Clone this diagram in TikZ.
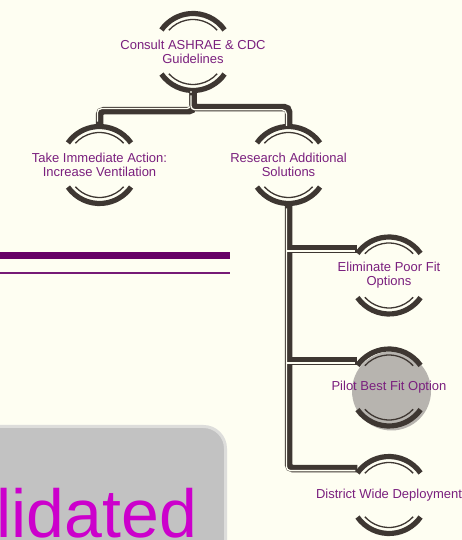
\documentclass[tikz,border=0pt]{standalone}
\usepackage{fontspec}
\setmainfont{Liberation Sans}
\usetikzlibrary{calc,positioning}
\definecolor{cBg}{HTML}{FEFEF2}
\definecolor{cLine}{HTML}{3E3732}
\definecolor{cText}{HTML}{7A1F7E}
\definecolor{cBar}{HTML}{660066}
\definecolor{cBarThin}{HTML}{761A76}
\definecolor{cBox}{HTML}{C2C2C2}
\definecolor{cBoxEdge}{HTML}{DDDDDB}
\definecolor{cMag}{HTML}{CC00CC}
\definecolor{cPilot}{HTML}{B7B4AF}
\tikzset{
  stage/.style={circle,inner sep=0pt,minimum size=82pt},
  lbl/.style={text=cText,align=center,inner sep=0pt,font=\fontsize{13}{14}\selectfont},
  rim/.style={cLine,line width=5.2pt},
  rimin/.style={cLine,line width=1.3pt},
  conn/.style={cLine,line width=7.5pt,rounded corners=4pt,
    postaction={draw=cBg,line width=1.3pt,transform canvas={shift={#1}}}},
  conn/.default={(-2.1pt,-2.1pt)},
}

\begin{document}
\begin{tikzpicture}[x=1pt,y=1pt]
  \useasboundingbox (0,0) rectangle (462,540);
  \clip (0,0) rectangle (462,540);
  \fill[cBg] (0,0) rectangle (462,540);
  % left side: bars and box
  \fill[cBar] (0,281) rectangle (230,288);
  \fill[cBarThin] (0,265.5) rectangle (230,267.5);
  \draw[draw=cBoxEdge,line width=3pt,fill=cBox,rounded corners=22pt] (-40,-40) rectangle (225.5,113.5);
  \node[anchor=base west,text=cMag,inner sep=0pt,font=\fontsize{68}{68}\selectfont] (word) at (-3.5,2) {lidated};
  % shaded stage
  \fill[cPilot] (391.5,149) circle[radius=39.5pt];
  % stages
  \node[stage,label={[lbl]center:Consult ASHRAE \& CDC\\Guidelines}] (consult) at (193,488) {};
  \node[stage,label={[lbl]center:Take Immediate Action:\\Increase Ventilation}] (action) at (99.5,375) {};
  \node[stage,label={[lbl]center:Research Additional\\Solutions}] (research) at (288.5,375) {};
  \node[stage,label={[lbl]center:Eliminate Poor Fit\\Options}] (elim) at (389,264.5) {};
  \node[stage,label={[lbl]center:Pilot Best Fit Option}] (pilot) at (389,152.5) {};
  \node[stage,label={[lbl]center:District Wide Deployment}] (district) at (389,45) {};
  % rims
  \foreach \n in {consult,action,research,elim,pilot,district}{
    \draw[rim] ($(\n)+(35:38.5pt)$) arc[start angle=35,end angle=145,radius=38.5pt];
    \draw[rim] ($(\n)+(215:38.5pt)$) arc[start angle=215,end angle=325,radius=38.5pt];
    \draw[rimin] ($(\n)+(42:32.5pt)$) arc[start angle=42,end angle=138,radius=32.5pt];
    \draw[rimin] ($(\n)+(222:32.5pt)$) arc[start angle=222,end angle=318,radius=32.5pt];
  }
  % connectors
  \draw[conn={(-2.1pt,2.1pt)}] (consult.south) -- ++(0,-17.5) -| (action.north);
  \draw[conn] (consult.south) -- ++(0,-14.5) -| (research.north);
  \draw[conn] (research.south) |- (district.140);
  \draw[conn] (research.south |- elim.140) -- (elim.140);
  \draw[conn] (research.south |- pilot.140) -- (pilot.140);
\end{tikzpicture}
\end{document}
